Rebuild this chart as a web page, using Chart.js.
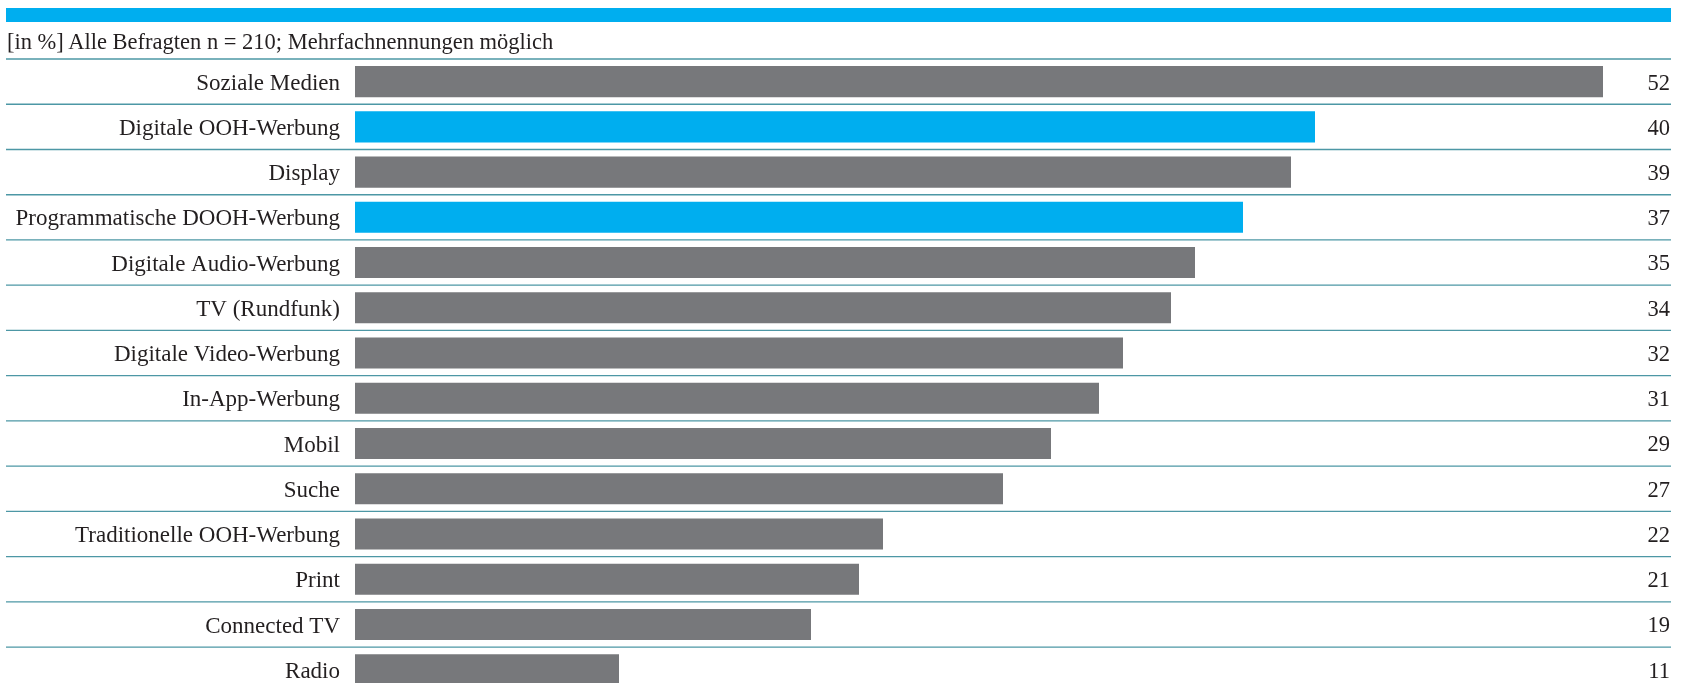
<!DOCTYPE html>
<html lang="de">
<head>
<meta charset="utf-8">
<script src="https://cdn.jsdelivr.net/npm/chart.js@4.4.1/dist/chart.umd.min.js"></script>
<style>
  html, body { margin: 0; padding: 0; background: #fff; overflow: hidden; }
  .wrap { position: relative; width: 1689px; height: 683px; overflow: hidden; }
  .strip { position: absolute; left: 6px; top: 8px; width: 1665px; height: 14px; background: #00aeef; }
  .note {
    position: absolute; left: 7px; top: 29px;
    font: 22.5px "Liberation Serif", serif; color: #231f20; white-space: nowrap;
  }
  #mediaChart { position: absolute; left: 0; top: 0; }
</style>
</head>
<body>
<div class="wrap">
  <canvas id="mediaChart" width="1689" height="700"></canvas>
  <div class="strip"></div>
  <div class="note">[in %] Alle Befragten n = 210; Mehrfachnennungen möglich</div>
</div>
<script>
// Kanäle und Anteile in %
const categories = [
  'Soziale Medien', 'Digitale OOH-Werbung', 'Display', 'Programmatische DOOH-Werbung',
  'Digitale Audio-Werbung', 'TV (Rundfunk)', 'Digitale Video-Werbung', 'In-App-Werbung',
  'Mobil', 'Suche', 'Traditionelle OOH-Werbung', 'Print', 'Connected TV', 'Radio'
];
const shares = [52, 40, 39, 37, 35, 34, 32, 31, 29, 27, 22, 21, 19, 11];
const highlighted = ['Digitale OOH-Werbung', 'Programmatische DOOH-Werbung'];

const GREY = '#77787b';
const BLUE = '#00aeef';
const INK = '#231f20';
const SERIF = '"Liberation Serif", serif';

// Trennlinien zwischen den Zeilen, über die volle Breite
const rowLines = {
  id: 'rowLines',
  beforeDatasetsDraw(chart) {
    const y = chart.scales.y;
    const step = y.getPixelForValue(1) - y.getPixelForValue(0);
    const ctx = chart.ctx;
    ctx.save();
    ctx.strokeStyle = '#4d97a5';
    ctx.lineWidth = 1.3;
    for (let i = 0; i <= categories.length; i++) {
      const py = y.getPixelForValue(i) - step / 2;
      ctx.beginPath();
      ctx.moveTo(6, py);
      ctx.lineTo(1671, py);
      ctx.stroke();
    }
    ctx.restore();
  }
};

// Werte rechtsbündig am Rand
const valueLabels = {
  id: 'valueLabels',
  afterDatasetsDraw(chart) {
    const ctx = chart.ctx;
    const meta = chart.getDatasetMeta(0);
    ctx.save();
    ctx.font = '22.5px ' + SERIF;
    ctx.fillStyle = INK;
    ctx.textAlign = 'right';
    ctx.textBaseline = 'middle';
    meta.data.forEach((bar, i) => {
      ctx.fillText(String(shares[i]), 1670, bar.y + 2);
    });
    ctx.restore();
  }
};

new Chart(document.getElementById('mediaChart'), {
  type: 'bar',
  data: {
    labels: categories,
    datasets: [{
      data: shares,
      backgroundColor: categories.map(c => highlighted.includes(c) ? BLUE : GREY),
      borderWidth: 0,
      barPercentage: 0.686,
      categoryPercentage: 1
    }]
  },
  options: {
    indexAxis: 'y',
    responsive: false,
    animation: false,
    layout: { padding: { top: 59, bottom: 7.6, left: 0, right: 14 } },
    plugins: {
      legend: { display: false },
      tooltip: { enabled: false }
    },
    scales: {
      x: { display: false, min: 0, max: 55 },
      y: {
        grid: { display: false, drawTicks: false },
        border: { display: false },
        afterFit(scale) {
          scale.width = 355;
          scale.paddingTop = 0;
          scale.paddingBottom = 0;
        },
        ticks: {
          padding: 15,
          labelOffset: 2,
          color: INK,
          font: { family: SERIF, size: 23 }
        }
      }
    }
  },
  plugins: [rowLines, valueLabels]
});
</script>
</body>
</html>
